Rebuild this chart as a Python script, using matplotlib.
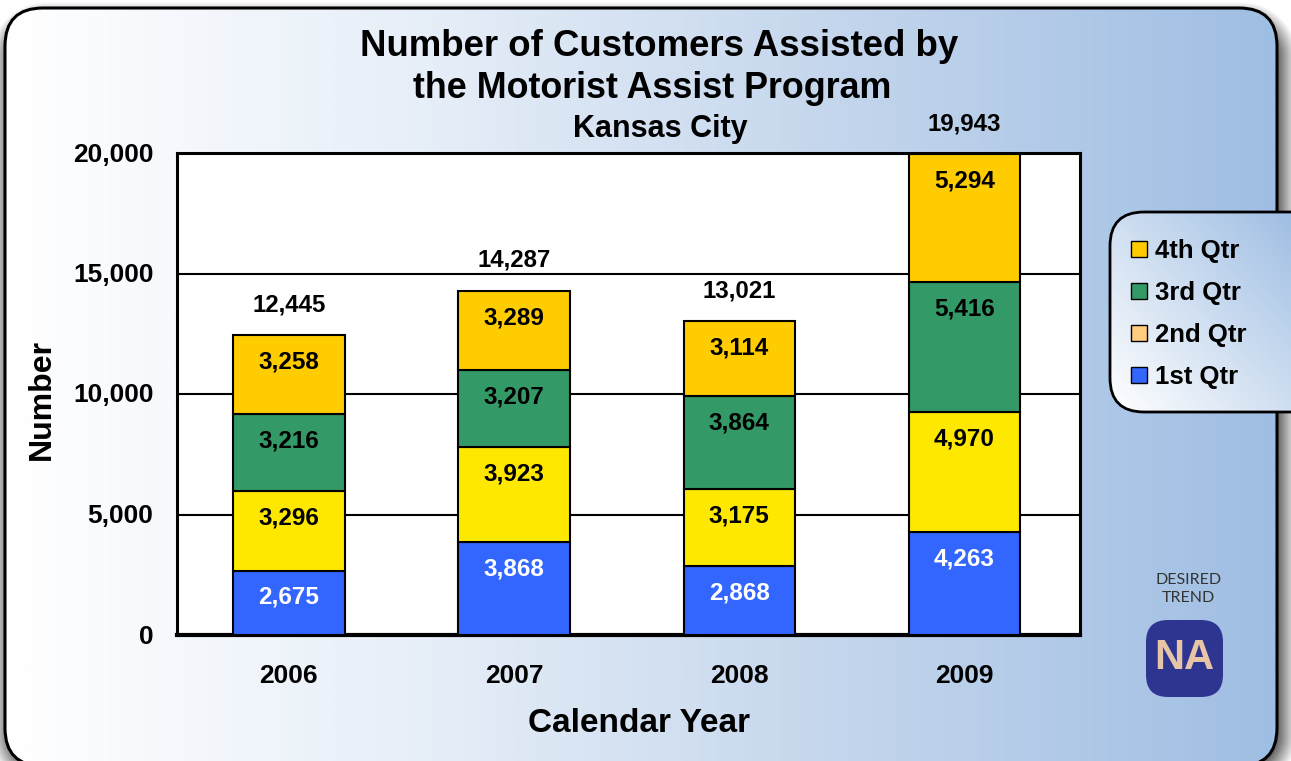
import numpy as np
import matplotlib
matplotlib.use('Agg')
import matplotlib.pyplot as plt
from matplotlib.colors import LinearSegmentedColormap
from matplotlib.patches import FancyBboxPatch, Patch
from matplotlib.transforms import ScaledTranslation

years = ['2006', '2007', '2008', '2009']
qtr1 = [2675, 3868, 2868, 4263]
qtr2 = [3296, 3923, 3175, 4970]
qtr3 = [3216, 3207, 3864, 5416]
qtr4 = [3258, 3289, 3114, 5294]
totals = [12445, 14287, 13021, 19943]
yticks = [0, 5000, 10000, 15000, 20000]

series = [qtr1, qtr2, qtr3, qtr4]
bar_colors = ['#3366FF', '#FFE800', '#339966', '#FFCC00']
label_colors = ['white', 'black', 'black', 'black']
legend_labels = ['4th Qtr', '3rd Qtr', '2nd Qtr', '1st Qtr']
legend_colors = ['#FFCC00', '#339966', '#FFCC80', '#3366FF']

W, H = 1291, 761
plt.rcParams['font.family'] = ['Liberation Sans', 'DejaVu Sans']
fig = plt.figure(figsize=(W / 100, H / 100), dpi=100, facecolor='white')

# background layer in pixel coordinates
bg = fig.add_axes([0, 0, 1, 1])
bg.axis('off')

# soft drop shadow, distance from an offset rounded rectangle
px, py = np.meshgrid(np.arange(W) + 0.5, np.arange(H) + 0.5)
r = 38
qx = np.abs(px - (8 + 1280) / 2) - ((1280 - 8) / 2 - r)
qy = np.abs(py - (20 + 772) / 2) - ((772 - 20) / 2 - r)
dist = np.hypot(np.maximum(qx, 0), np.maximum(qy, 0)) + np.minimum(np.maximum(qx, qy), 0) - r
shade = 1 - 0.65 * np.clip(1 - (dist + 4) / 22, 0, 1)
bg.imshow(shade, extent=[0, W, H, 0], cmap='gray', vmin=0, vmax=1, aspect='auto', zorder=1)

# main panel, the nearly clear face keeps agg from clipping the curved outline at the canvas edge
clear = (1, 1, 1, 0.002)
panel_cmap = LinearSegmentedColormap.from_list('panel', ['#ffffff', '#e6eef8', '#c3d5ec', '#9fbee3'])
panel = FancyBboxPatch((5, 8), 1272, 758, boxstyle='round,pad=0,rounding_size=38',
                       fc=clear, ec='black', lw=2.2, zorder=3, clip_on=False)
bg.add_patch(panel)
grad = np.linspace(0, 1, 512).reshape(1, -1)
im = bg.imshow(grad, extent=[5, 1277, 766, 8], cmap=panel_cmap, aspect='auto', zorder=2)
im.set_clip_path(panel)

# legend box
box = FancyBboxPatch((1110, 212), 230, 200, boxstyle='round,pad=0,rounding_size=34',
                     fc=clear, ec='black', lw=2, zorder=5, clip_on=False)
bg.add_patch(box)
xx, yy = np.meshgrid(np.linspace(0, 1, 128), np.linspace(1, 0, 128))
box_cmap = LinearSegmentedColormap.from_list('box', ['#ffffff', '#9fbee3'])
box_im = bg.imshow((xx * 1.25 + yy) / 2, extent=[1110, 1340, 412, 212], cmap=box_cmap,
                   vmin=0, vmax=1, aspect='auto', zorder=4)
box_im.set_clip_path(box)
bg.set_xlim(0, W)
bg.set_ylim(H, 0)

# NA badge
bg.add_patch(FancyBboxPatch((1146, 620), 77, 77, boxstyle='round,pad=0,rounding_size=22',
                            fc='#2E3591', ec='none', zorder=5))
bg.text(1184.5, 658, 'NA', fontsize=30, fontweight='bold', color='#E8C4A6',
        ha='center', va='center', zorder=6)
bg.text(1188.5, 589, 'DESIRED\nTREND', fontsize=11.5, color='#333333', family='Lato',
        ha='center', va='center', linespacing=1.45, zorder=6)

# titles
bg.text(659, 46, 'Number of Customers Assisted by', fontsize=26.4, fontweight='bold',
        ha='center', va='center', zorder=6)
bg.text(652, 89, 'the Motorist Assist Program', fontsize=25.8, fontweight='bold',
        ha='center', va='center', zorder=6)
bg.text(660, 129, 'Kansas City', fontsize=22, fontweight='bold',
        ha='center', va='center', zorder=6)
bg.text(639, 724, 'Calendar Year', fontsize=24, fontweight='bold',
        ha='center', va='center', zorder=6)
bg.text(42, 400, 'Number', fontsize=23, fontweight='bold', rotation=90,
        ha='center', va='center', zorder=6)

# chart
ax = fig.add_axes([177 / W, 1 - 635 / H, (1080 - 177) / W, (635 - 153) / H], zorder=2)
x = np.arange(len(years))
bottom = np.zeros(len(years))
for vals, color, txt in zip(series, bar_colors, label_colors):
    ax.bar(x, vals, width=0.495, bottom=bottom, color=color, edgecolor='black', linewidth=1.5, zorder=3)
    bottom = bottom + np.array(vals)
    for xi, top, v in zip(x, bottom, vals):
        ax.annotate(f'{v:,}', (xi, top), xytext=(0, -19.4), textcoords='offset points',
                    ha='center', va='center', fontsize=17.5, fontweight='bold', color=txt, zorder=4)
for xi, top, t in zip(x, bottom, totals):
    ax.annotate(f'{t:,}', (xi, top), xytext=(0, 22), textcoords='offset points',
                ha='center', va='center', fontsize=17.3, fontweight='bold',
                annotation_clip=False, zorder=4)

ax.set_xlim(-0.497, 3.513)
ax.set_ylim(0, 20000)
ax.set_xticks(x)
ax.set_xticklabels(years, fontsize=19, fontweight='bold')
ax.set_yticks(yticks)
ax.set_yticklabels([f'{t:,}' for t in yticks], fontsize=19, fontweight='bold')
ax.tick_params(length=0)
ax.tick_params(axis='x', pad=21)
ax.tick_params(axis='y', pad=17)
for lab in ax.get_yticklabels():
    lab.set_transform(lab.get_transform() + ScaledTranslation(0, 1 / 100, fig.dpi_scale_trans))
ax.grid(axis='y', color='black', lw=1.5, zorder=1)
ax.set_axisbelow(True)
for s in ax.spines.values():
    s.set_linewidth(2.2)
ax.spines['bottom'].set_linewidth(3)

handles = [Patch(fc=c, ec='black', lw=1) for c in legend_colors]
fig.legend(handles, legend_labels, loc='upper left', bbox_to_anchor=(1131 / W, 1 - 239 / H),
           bbox_transform=fig.transFigure, frameon=False,
           prop={'family': 'Liberation Sans', 'weight': 'bold', 'size': 18.5},
           handlelength=0.62, handleheight=0.62, handletextpad=0.3, labelspacing=0.70,
           borderaxespad=0, borderpad=0)

fig.savefig('out.png', dpi=100)
